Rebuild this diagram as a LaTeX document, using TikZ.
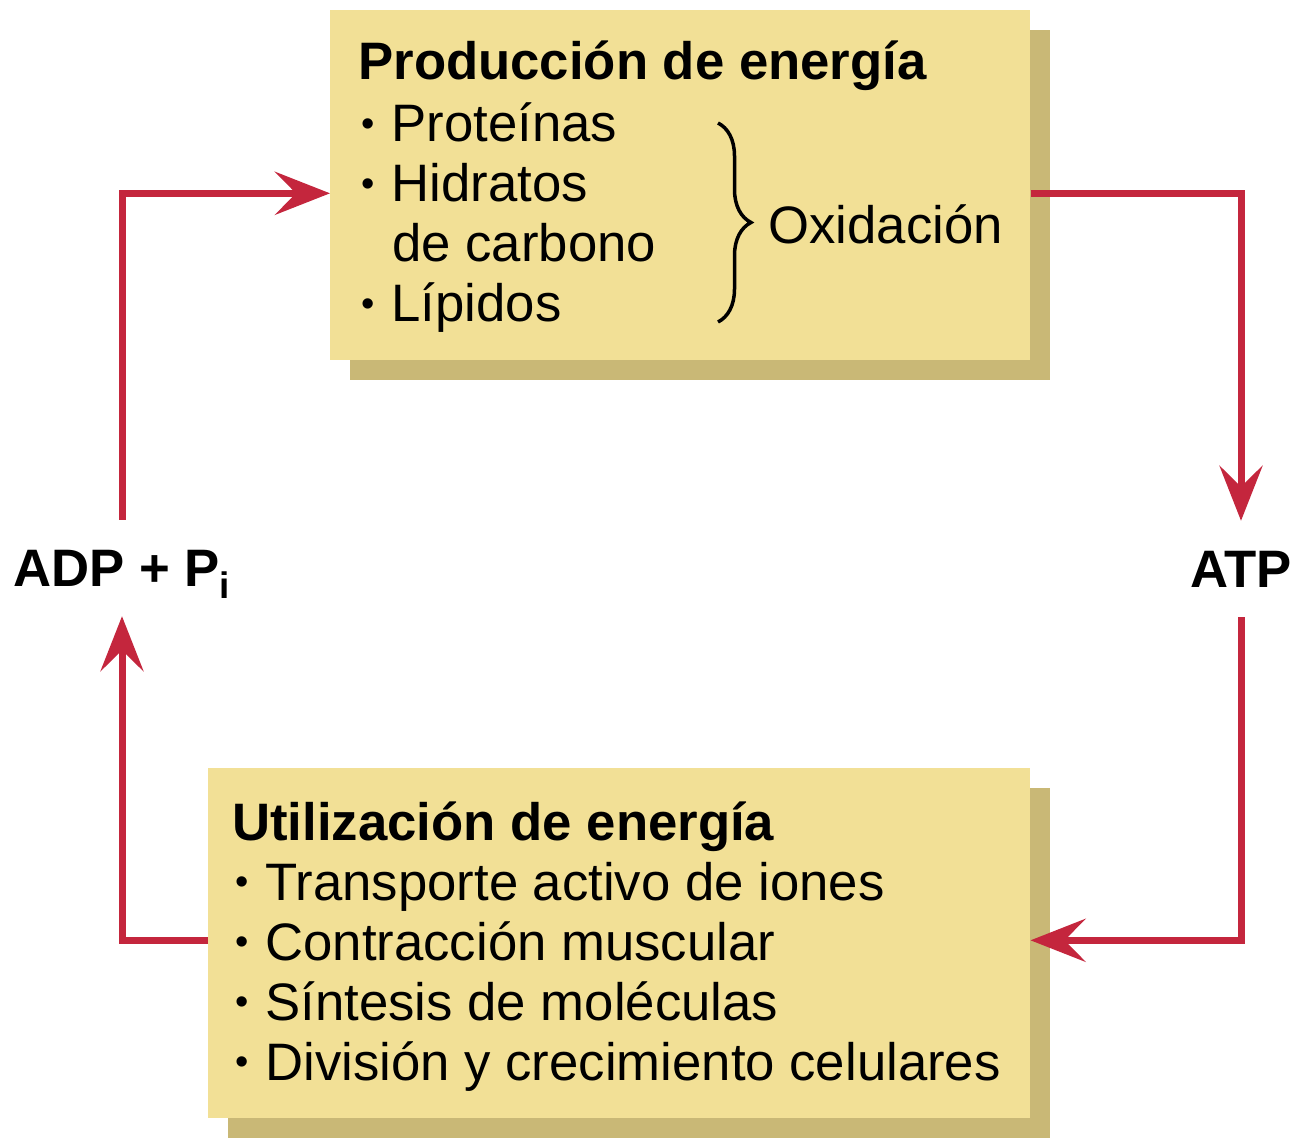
\documentclass[tikz,border=0pt]{standalone}
\usepackage{fontspec}
\setmainfont{Liberation Sans}
\usepackage{xcolor}
\usepackage{tikz}
\usetikzlibrary{positioning, arrows.meta, calc, shadows, decorations.pathreplacing}

\definecolor{boxfill}{HTML}{F2E096}
\definecolor{boxshade}{HTML}{C9B876}
\definecolor{cyclered}{HTML}{C4263D}
\newcommand{\bul}{\makebox[0.628em][l]{\hspace{0.06em}\raisebox{0.11em}{\scalebox{0.72}{•}}}}

\begin{document}
\begin{tikzpicture}[x=0.02cm, y=-0.02cm,
    panel/.style={fill=boxfill, anchor=north west, inner sep=0pt,
        drop shadow={shadow xshift=0.4cm, shadow yshift=-0.4cm, fill=boxshade, opacity=1}},
    txt/.style={anchor=base west, inner sep=0pt, font=\fontsize{30}{34}\selectfont},
    head/.style={txt, font=\fontsize{30}{34}\selectfont\bfseries},
    molec/.style={font=\fontsize{30}{34}\selectfont\bfseries, inner xsep=0pt,
        inner ysep=0.58cm, text height=21.5pt, text depth=0pt},
    cyc/.style={draw=cyclered, line width=0.14cm,
        -{Stealth[length=1.1cm, width=0.86cm, inset=0.42cm]}}]
    \fill[white] (0,0) rectangle (1294,1141);
    \useasboundingbox (0,0) rectangle (1294,1141);

    % production box
    \node[panel, minimum width=14cm, minimum height=7cm] (prod) at (330,10) {};
    \node[head] (prodhead) at (358,80) {Producción de energía};
    \foreach \y/\t [count=\n] in {142/Proteínas, 202/Hidratos, 322/Lípidos} {
        \node[txt] (fuel\n) at (358,\y) {\bul\t};
    }
    \node[txt] (fuelcarb) at (392,262) {de carbono};
    \coordinate (bracetop) at (718,123);
    \coordinate (bracebot) at (718,322);
    \draw[line width=0.07cm, decorate, decoration={brace, amplitude=0.66cm}] (bracetop) -- (bracebot);
    \node[txt] (oxid) at (768,244) {Oxidación};

    % use box
    \node[panel, minimum width=16.44cm, minimum height=7cm] (util) at (208,768) {};
    \node[head] (utilhead) at (232,840) {Utilización de energía};
    \foreach \y/\t [count=\n] in {900/Transporte activo de iones, 960/Contracción muscular,
                                  1020/Síntesis de moléculas, 1080/División y crecimiento celulares} {
        \node[txt] (use\n) at (232,\y) {\bul\t};
    }

    % cycle
    \node[molec] (adp) at (122,568) {ADP + P\textsubscript{i}};
    \node[molec] (atp) at (1241,569) {ATP};
    \draw[cyc] ($(prod.east)+(0,8)$) -| (atp.north);
    \draw[cyc] (atp.south) |- ($(util.east)+(0,-3)$);
    \draw[cyc] ($(util.west)+(0,-3)$) -| (adp.south);
    \draw[cyc] (adp.north) |- ($(prod.west)+(0,8)$);
\end{tikzpicture}
\end{document}
